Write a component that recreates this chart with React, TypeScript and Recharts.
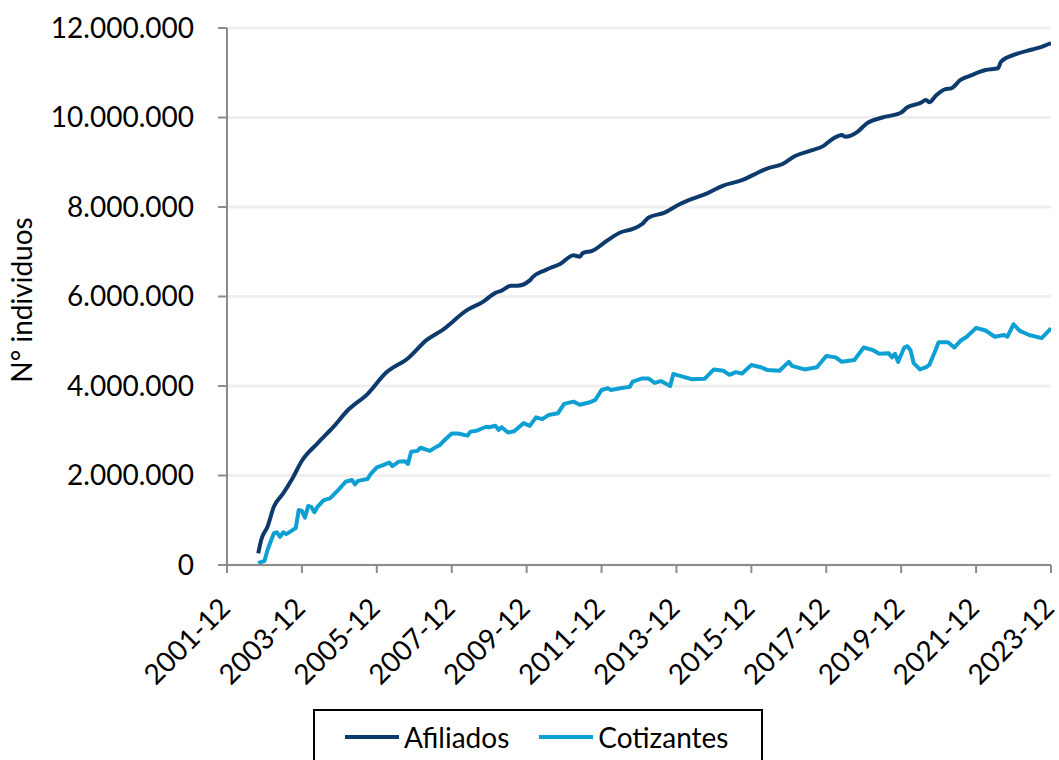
import React from "react";
import {
  LineChart,
  Line,
  XAxis,
  YAxis,
  CartesianGrid,
  Legend,
  Label,
} from "recharts";

// Afiliados: month (YYYY-MM) and thousands of people
const afiliadosMonths = [
  "2002-10", "2002-11", "2003-01", "2003-03", "2003-06", "2003-09", "2003-12",
  "2004-05", "2004-10", "2005-03", "2005-09", "2006-03", "2006-10", "2007-04",
  "2007-09", "2008-05", "2008-10", "2009-02", "2009-04", "2009-07", "2009-09",
  "2010-01", "2010-02", "2010-06", "2010-11", "2011-03", "2011-05", "2011-06",
  "2011-09", "2012-02", "2012-06", "2012-10", "2013-01", "2013-03", "2013-08",
  "2014-01", "2014-05", "2014-10", "2015-03", "2015-09", "2016-01", "2016-05",
  "2016-10", "2017-02", "2017-07", "2017-11", "2018-02", "2018-05", "2018-06",
  "2018-10", "2019-01", "2019-06", "2019-12", "2020-02", "2020-06", "2020-08",
  "2020-09", "2020-11", "2021-02", "2021-04", "2021-07", "2021-10", "2022-03",
  "2022-07", "2022-08", "2023-01", "2023-06", "2023-09", "2023-12",
];
const afiliadosValues = [
  260, 570, 860, 1300, 1600, 1940, 2330,
  2720, 3080, 3480, 3820, 4300, 4620, 5030,
  5250, 5700, 5880, 6080, 6130, 6240, 6240,
  6360, 6440, 6590, 6740, 6920, 6890, 6970,
  7020, 7260, 7430, 7510, 7620, 7760, 7870,
  8060, 8180, 8310, 8480, 8600, 8730, 8860,
  8960, 9140, 9260, 9360, 9520, 9610, 9570,
  9680, 9870, 10000, 10110, 10230, 10320, 10390,
  10340, 10480, 10630, 10650, 10840, 10930, 11060,
  11100, 11250, 11420, 11520, 11580, 11660,
];

// Cotizantes: month (YYYY-MM) and thousands of people
const cotizantesMonths = [
  "2002-10", "2002-12", "2003-01", "2003-03", "2003-04", "2003-05", "2003-06",
  "2003-07", "2003-09", "2003-10", "2003-11", "2003-12", "2004-01", "2004-02",
  "2004-03", "2004-04", "2004-05", "2004-07", "2004-09", "2004-12", "2005-02",
  "2005-04", "2005-05", "2005-06", "2005-09", "2005-10", "2005-12", "2006-02",
  "2006-04", "2006-05", "2006-07", "2006-09", "2006-10", "2006-11", "2007-01",
  "2007-02", "2007-05", "2007-07", "2007-08", "2007-10", "2007-12", "2008-02",
  "2008-05", "2008-06", "2008-08", "2008-11", "2008-12", "2009-02", "2009-03",
  "2009-04", "2009-06", "2009-08", "2009-11", "2010-01", "2010-03", "2010-05",
  "2010-07", "2010-10", "2010-12", "2011-03", "2011-05", "2011-08", "2011-10",
  "2011-12", "2012-02", "2012-03", "2012-06", "2012-09", "2012-10", "2013-01",
  "2013-03", "2013-05", "2013-07", "2013-10", "2013-11", "2013-12", "2014-02",
  "2014-05", "2014-09", "2014-12", "2015-03", "2015-05", "2015-07", "2015-09",
  "2015-12", "2016-03", "2016-05", "2016-09", "2016-12", "2017-01", "2017-05",
  "2017-09", "2017-12", "2018-03", "2018-05", "2018-09", "2018-12", "2019-03",
  "2019-05", "2019-08", "2019-09", "2019-10", "2019-11", "2020-01", "2020-02",
  "2020-03", "2020-04", "2020-06", "2020-08", "2020-09", "2020-11", "2020-12",
  "2021-03", "2021-05", "2021-07", "2021-09", "2021-12", "2022-03", "2022-06",
  "2022-09", "2022-10", "2022-12", "2023-02", "2023-05", "2023-09", "2023-12",
];
const cotizantesValues = [
  40, 90, 340, 710, 730, 630, 730,
  690, 780, 820, 1230, 1210, 1060, 1320,
  1300, 1180, 1300, 1450, 1490, 1700, 1860,
  1900, 1800, 1880, 1920, 2030, 2180, 2230,
  2290, 2210, 2310, 2320, 2260, 2530, 2550,
  2620, 2550, 2640, 2670, 2810, 2940, 2940,
  2890, 2980, 3000, 3090, 3080, 3110, 3020,
  3080, 2960, 2990, 3170, 3110, 3300, 3260,
  3350, 3390, 3600, 3650, 3580, 3630, 3690,
  3910, 3950, 3910, 3950, 3980, 4100, 4170,
  4170, 4070, 4110, 4000, 4270, 4250, 4210,
  4150, 4160, 4370, 4340, 4250, 4310, 4280,
  4470, 4420, 4360, 4340, 4540, 4450, 4370,
  4420, 4670, 4640, 4540, 4580, 4860, 4800,
  4720, 4730, 4640, 4720, 4540, 4860, 4890,
  4800, 4510, 4370, 4420, 4470, 4800, 4980,
  4980, 4860, 5010, 5100, 5300, 5240, 5100,
  5140, 5100, 5380, 5230, 5140, 5070, 5290,
];

const xTickLabels = [
  "2001-12", "2003-12", "2005-12", "2007-12", "2009-12", "2011-12",
  "2013-12", "2015-12", "2017-12", "2019-12", "2021-12", "2023-12",
];
const yTicks = [0, 2000000, 4000000, 6000000, 8000000, 10000000, 12000000];

const seriesNames = ["Afiliados", "Cotizantes"];
const seriesColors = ["#0d3a6c", "#0e9fd3"];

const FONT = "Lato, 'Open Sans', sans-serif";

// months elapsed since 2001-12
const monthIndex = (ym: string) => {
  const [y, m] = ym.split("-").map(Number);
  return (y - 2001) * 12 + m - 12;
};

const afiliadosData = afiliadosMonths.map((ym, i) => ({
  t: monthIndex(ym),
  v: afiliadosValues[i] * 1000,
}));
const cotizantesData = cotizantesMonths.map((ym, i) => ({
  t: monthIndex(ym),
  v: cotizantesValues[i] * 1000,
}));
const xTicks = xTickLabels.map(monthIndex);

const fmtThousands = (v: number) =>
  String(Math.round(v)).replace(/\B(?=(\d{3})+(?!\d))/g, ".");

const XTick = (props: any) => {
  const { x, payload } = props;
  const ax = x + 5;
  const ay = 610;
  const label = xTickLabels[xTicks.indexOf(payload.value)] ?? "";
  return (
    <text
      x={ax}
      y={ay}
      transform={`rotate(-45 ${ax} ${ay})`}
      textAnchor="end"
      fontFamily={FONT}
      fontSize={28}
      fill="#000"
    >
      {label}
    </text>
  );
};

const LegendBox = () => (
  <div
    style={{
      width: 450,
      height: 64,
      boxSizing: "border-box",
      border: "2px solid #000",
      background: "#fff",
      display: "flex",
      alignItems: "center",
      paddingLeft: 30,
      fontFamily: FONT,
      fontSize: 28,
      color: "#000",
    }}
  >
    {seriesNames.map((name, i) => (
      <div
        key={name}
        style={{
          display: "flex",
          alignItems: "center",
          marginRight: i === 0 ? 30 : 0,
          marginTop: -8,
        }}
      >
        <span
          style={{
            display: "inline-block",
            width: 54,
            height: 4,
            background: seriesColors[i],
            marginRight: 5,
          }}
        />
        <span>{name}</span>
      </div>
    ))}
  </div>
);

export default function App() {
  return (
    <div style={{ position: "absolute", left: 0, top: 0, width: 1059, height: 760, background: "#fff" }}>
      <LineChart
        width={1059}
        height={760}
        margin={{ top: 28, right: 8, bottom: 135, left: 107 }}
      >
        <CartesianGrid
          horizontal
          vertical={false}
          stroke="#efefef"
          strokeWidth={3}
        />
        <XAxis
          dataKey="t"
          type="number"
          domain={[0, 264]}
          ticks={xTicks}
          interval={0}
          height={60}
          axisLine={{ stroke: "#8c8c8c", strokeWidth: 2 }}
          tickLine={{ stroke: "#8c8c8c", strokeWidth: 2 }}
          tickSize={8}
          tick={<XTick />}
          allowDataOverflow
        />
        <YAxis
          type="number"
          domain={[0, 12000000]}
          ticks={yTicks}
          interval={0}
          width={120}
          axisLine={{ stroke: "#8c8c8c", strokeWidth: 2 }}
          tickLine={{ stroke: "#8c8c8c", strokeWidth: 2 }}
          tickSize={9}
          tickMargin={24}
          tickFormatter={fmtThousands}
          tick={{ fontFamily: FONT, fontSize: 28, fill: "#000" }}
        >
          <Label
            content={() => (
              <text
                x={32}
                y={300}
                transform="rotate(-90 32 300)"
                textAnchor="middle"
                fontFamily={FONT}
                fontSize={28}
                fill="#000"
              >
                N° individuos
              </text>
            )}
          />
        </YAxis>
        <Legend
          layout="horizontal"
          verticalAlign="middle"
          align="center"
          content={<LegendBox />}
          wrapperStyle={{ position: "absolute", left: 313, top: 709, width: 450 }}
        />
        <Line
          data={afiliadosData}
          dataKey="v"
          name={seriesNames[0]}
          type="monotone"
          stroke={seriesColors[0]}
          strokeWidth={4}
          dot={false}
          strokeLinejoin="round"
          isAnimationActive={false}
        />
        <Line
          data={cotizantesData}
          dataKey="v"
          name={seriesNames[1]}
          type="linear"
          stroke={seriesColors[1]}
          strokeWidth={4}
          dot={false}
          strokeLinejoin="round"
          isAnimationActive={false}
        />
      </LineChart>
    </div>
  );
}
